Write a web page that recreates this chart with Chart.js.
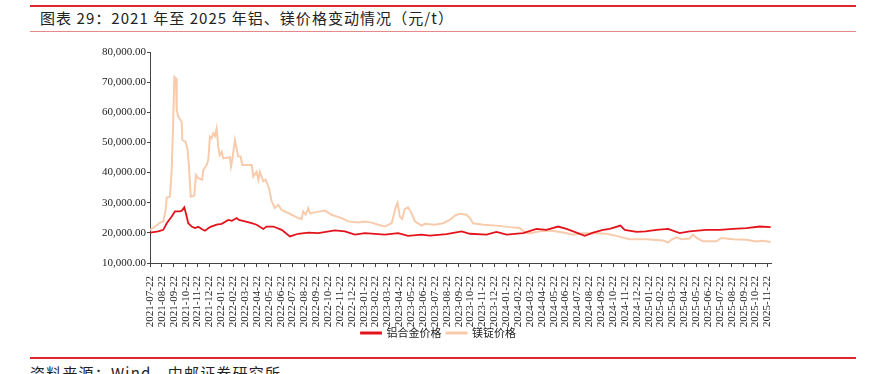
<!DOCTYPE html>
<html>
<head>
<meta charset="utf-8">
<script src="https://cdn.jsdelivr.net/npm/chart.js@4.4.1/dist/chart.umd.min.js"></script>
<style>
    html, body { margin: 0; padding: 0; background: #fff; width: 869px; height: 374px; overflow: hidden; position: relative; font-family: "Noto Sans CJK SC", sans-serif; }
    .rule { position: absolute; left: 30px; width: 826px; }
    #topRule { top: 5px; height: 2px; background: #e0262b; }
    #titleRule { top: 31px; height: 1px; background: #e58a8a; }
    #bottomRule { top: 357px; height: 2px; background: #e0262b; }
    #title { position: absolute; left: 40px; top: 8px; font-size: 15px; line-height: 20px; color: #222; letter-spacing: 1.05px; white-space: nowrap; }
    #source { position: absolute; left: 30px; top: 363px; font-size: 15px; line-height: 20px; color: #222; letter-spacing: 1.2px; white-space: nowrap; }
    #chartBox { position: absolute; left: 0; top: 36px; width: 869px; height: 319px; }
</style>
</head>
<body>
<div class="rule" id="topRule"></div>
<div id="title">图表 29：2021 年至 2025 年铝、镁价格变动情况（元/t）</div>
<div class="rule" id="titleRule"></div>
<div id="chartBox"><canvas id="priceChart"></canvas></div>
<div class="rule" id="bottomRule"></div>
<div id="source">资料来源：Wind，中邮证券研究所</div>

<script>
// x positions are months counted from 2021-07-22
const monthLabels = [
    '2021-07-22', '2021-08-22', '2021-09-22', '2021-10-22', '2021-11-22', '2021-12-22',
    '2022-01-22', '2022-02-22', '2022-03-22', '2022-04-22', '2022-05-22', '2022-06-22',
    '2022-07-22', '2022-08-22', '2022-09-22', '2022-10-22', '2022-11-22', '2022-12-22',
    '2023-01-22', '2023-02-22', '2023-03-22', '2023-04-22', '2023-05-22', '2023-06-22',
    '2023-07-22', '2023-08-22', '2023-09-22', '2023-10-22', '2023-11-22', '2023-12-22',
    '2024-01-22', '2024-02-22', '2024-03-22', '2024-04-22', '2024-05-22', '2024-06-22',
    '2024-07-22', '2024-08-22', '2024-09-22', '2024-10-22', '2024-11-22', '2024-12-22',
    '2025-01-22', '2025-02-22', '2025-03-22', '2025-04-22', '2025-05-22', '2025-06-22',
    '2025-07-22', '2025-08-22', '2025-09-22', '2025-10-22', '2025-11-22'
];

const seriesNames = ['铝合金价格', '镁锭价格'];

// 铝合金价格
const alMonths = [0, 0.7, 1.12, 1.41, 1.83, 2.1, 2.53, 2.67, 2.89, 3.09, 3.22, 3.51, 3.79, 4.07, 4.35, 4.63,
    5.05, 5.61, 6.04, 6.59, 6.9, 7.3, 7.49, 8.0, 8.56, 8.98, 9.54, 9.82, 10.38, 11.09, 11.78, 12.48,
    13.33, 14.17, 15.57, 16.41, 17.26, 18.1, 19.78, 20.9, 21.74, 22.87, 23.57, 24.97, 26.24, 26.94,
    28.34, 29.18, 30.03, 31.42, 32.55, 33.39, 34.37, 35.08, 35.92, 36.62, 37.32, 38.16, 38.72, 39.62,
    39.98, 40.97, 41.75, 42.65, 43.63, 44.61, 45.45, 46.86, 47.98, 49.1, 50.23, 51.35, 52.27];
const alPrices = [20100, 20500, 21000, 23200, 25400, 27100, 27100, 27300, 28500, 25400, 23200, 22100, 21600, 22000, 21300, 20700,
    21900, 22700, 23000, 24300, 24000, 24900, 24300, 23800, 23200, 22700, 21300, 22100, 22100, 21000, 18800, 19700,
    20100, 19900, 20800, 20500, 19400, 19900, 19400, 19900, 19000, 19400, 19100, 19600, 20500, 19700,
    19400, 20300, 19400, 19900, 21300, 21000, 22100, 21300, 20100, 19000, 20100, 21000, 21300, 22400,
    21000, 20300, 20500, 21000, 21300, 19900, 20500, 21000, 21000, 21300, 21600, 22100, 21900];

// 镁锭价格
const mgMonths = [0, 0.42, 0.84, 1.12, 1.32, 1.41, 1.68, 1.83, 1.94, 2.05, 2.19, 2.25, 2.38, 2.67, 2.72, 3.0,
    3.17, 3.28, 3.43, 3.73, 3.87, 4.07, 4.4, 4.49, 4.77, 4.91, 5.05, 5.19, 5.33, 5.47, 5.61, 5.75,
    5.87, 6.04, 6.17, 6.73, 6.82, 6.93, 7.15, 7.24, 7.43, 7.63, 7.77, 8.0, 8.56, 8.7, 8.98, 9.12,
    9.26, 9.54, 9.74, 10.02, 10.24, 10.52, 10.8, 11.09, 11.93, 12.48, 12.77, 12.9, 13.1, 13.33, 13.47,
    13.89, 14.73, 15.29, 16.14, 16.69, 17.53, 18.1, 18.66, 19.22, 19.78, 20.35, 20.71, 20.85, 21.04,
    21.24, 21.46, 21.74, 22.03, 22.31, 22.87, 23.15, 23.99, 24.69, 25.25, 25.67, 26.09, 26.66, 26.94,
    27.21, 28.06, 29.18, 30.3, 31.14, 31.57, 31.99, 32.83, 33.67, 34.79, 35.63, 36.47, 37.6, 38.44,
    39.28, 40.4, 41.81, 43.2, 43.63, 43.91, 44.33, 44.76, 45.45, 45.73, 46.04, 46.57, 47.7, 48.12,
    49.1, 50.23, 51.07, 51.6, 52.27];
const mgPrices = [21000, 22100, 23400, 23800, 27600, 31700, 32000, 40900, 55000, 71700, 71200, 60700, 58500, 56900, 50800, 50200,
    47500, 42000, 32000, 32300, 39200, 38100, 37600, 40900, 42500, 44200, 51900, 51400, 53000, 52100, 54600, 48600,
    45800, 46900, 44700, 45100, 42000, 44200, 50800, 49100, 45300, 45300, 42500, 42500, 42500, 38700, 40300, 37600,
    40300, 37100, 37600, 34800, 30500, 28200, 29300, 27600, 26000, 24900, 24600, 27100, 26000, 28200, 26500,
    26800, 27400, 26000, 24900, 23800, 23400, 23800, 23400, 22700, 22100, 23200, 28700, 30000, 25400,
    24600, 27900, 28500, 26500, 23800, 22400, 23000, 22700, 23200, 24300, 25700, 26300, 26000, 24900,
    23200, 22700, 22400, 21900, 21600, 20100, 19900, 20500, 20800, 20100, 19400, 19900, 19900, 19700,
    19000, 17900, 17900, 17500, 16800, 17700, 18500, 17900, 18100, 19400, 18300, 17200, 17200, 18300,
    17900, 17700, 17100, 17400, 17000];

const yTicks = [10000, 20000, 30000, 40000, 50000, 60000, 70000, 80000];

const toPoints = (xs, ys) => xs.map((x, i) => ({ x: x, y: ys[i] }));

const axisColor = '#444';
const serifFont = '"Liberation Serif", "Times New Roman", serif';

// the legend in the source sits right of the canvas centre and tucks up under the date labels
const legendShift = {
    id: 'legendShift',
    afterLayout(chart) {
        const lg = chart.legend;
        lg.left += 53;
        lg.right += 53;
        lg.top -= 6.5;
        lg.bottom -= 6.5;
    }
};

new Chart(document.getElementById('priceChart'), {
    type: 'line',
    data: {
        datasets: [
            {
                label: seriesNames[0],
                data: toPoints(alMonths, alPrices),
                borderColor: '#e3131c',
                backgroundColor: '#e3131c',
                borderWidth: 1.8,
                pointRadius: 0,
                tension: 0
            },
            {
                label: seriesNames[1],
                data: toPoints(mgMonths, mgPrices),
                borderColor: '#f8cbad',
                backgroundColor: '#f8cbad',
                borderWidth: 2,
                pointRadius: 0,
                tension: 0
            }
        ]
    },
    options: {
        responsive: true,
        maintainAspectRatio: false,
        animation: false,
        layout: { padding: { top: 16, left: 0, right: 98, bottom: 0 } },
        plugins: {
            tooltip: { enabled: false },
            legend: {
                position: 'bottom',
                labels: {
                    boxWidth: 20,
                    boxHeight: 1,
                    padding: 5,
                    color: '#222',
                    font: { family: '"Noto Sans CJK SC", sans-serif', size: 11 }
                }
            }
        },
        scales: {
            x: {
                type: 'linear',
                min: 0,
                max: 52.3,
                afterFit: (scale) => { scale.height = 66; },
                border: { display: true, color: axisColor, width: 1 },
                grid: { drawOnChartArea: false, drawTicks: true, tickLength: 4, color: axisColor },
                ticks: {
                    stepSize: 1,
                    includeBounds: false,
                    autoSkip: false,
                    maxRotation: 90,
                    minRotation: 90,
                    padding: 9,
                    color: '#222',
                    font: { family: serifFont, size: 11 },
                    callback: (v) => monthLabels[v] || ''
                }
            },
            y: {
                min: yTicks[0],
                max: yTicks[yTicks.length - 1],
                afterFit: (scale) => { scale.width = 150; },
                afterBuildTicks: (scale) => { scale.ticks = yTicks.map(v => ({ value: v })); },
                border: { display: true, color: axisColor, width: 1 },
                grid: { drawOnChartArea: false, drawTicks: true, tickLength: 3, color: axisColor },
                ticks: {
                    padding: 1,
                    color: '#222',
                    font: { family: serifFont, size: 11 },
                    callback: (v) => v.toLocaleString('en-US', { minimumFractionDigits: 2, maximumFractionDigits: 2 })
                }
            }
        }
    },
    plugins: [legendShift]
});
</script>
</body>
</html>
